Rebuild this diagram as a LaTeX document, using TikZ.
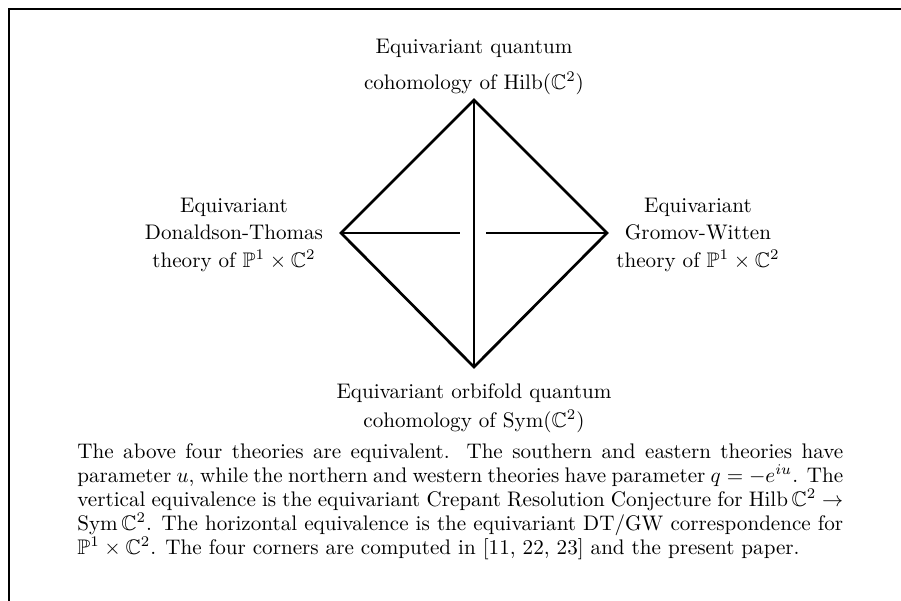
\documentclass[tikz,border=0pt]{standalone}
\usepackage{amsmath,amssymb}
\usetikzlibrary{positioning}

\begin{document}
\begin{tikzpicture}[x=.474pt,y=-.474pt,
  edge/.style={line width=1.3pt},
  theory/.style={align=center,inner sep=0pt,anchor=base,font=\fontsize{10}{13}\selectfont},
  caption/.style={text width=363pt,align=justify,inner sep=0pt,anchor=base west,font=\fontsize{10}{11.4}\selectfont}]
\useasboundingbox (0,0) rectangle (901,601);
\draw[line width=1.4pt] (9,601)--(9,9)--(901,9);
% corners of the square
\coordinate (N) at (474,100);
\coordinate (S) at (474,367);
\coordinate (W) at (341,233);
\coordinate (E) at (607,233);
\coordinate (gapW) at (460,233);
\coordinate (gapE) at (486,233);
\draw[edge] (N)--(E)--(S)--(W)--cycle;
\draw[edge] (N)--(S);
\draw[edge] (W)--(gapW) (gapE)--(E);
% the four theories (base = last line)
\node[theory,font=\fontsize{10}{16.6}\selectfont] (hilb) at (474,89) {Equivariant quantum\\cohomology of $\operatorname{Hilb}(\mathbb{C}^2)$};
\node[theory] (dt) at (234,267) {Equivariant\\Donaldson-Thomas\\theory of $\mathbb{P}^1\times\mathbb{C}^2$};
\node[theory] (gw) at (698,267) {Equivariant\\Gromov-Witten\\theory of $\mathbb{P}^1\times\mathbb{C}^2$};
\node[theory,font=\fontsize{10}{13.7}\selectfont] (sym) at (474,427) {Equivariant orbifold quantum\\cohomology of $\operatorname{Sym}(\mathbb{C}^2)$};
\node[caption] (text) at (77,458) {The above four theories are equivalent. The southern and eastern theories have parameter $u$, while the northern and western theories have parameter $q=-e^{iu}$. The vertical equivalence is the equivariant Crepant Resolution Conjecture for $\operatorname{Hilb}\mathbb{C}^2\to\operatorname{Sym}\mathbb{C}^2$. The horizontal equivalence is the equivariant DT/GW correspondence for $\mathbb{P}^1\times\mathbb{C}^2$. The four corners are computed in [11, 22, 23] and the present paper.};
\end{tikzpicture}
\end{document}
